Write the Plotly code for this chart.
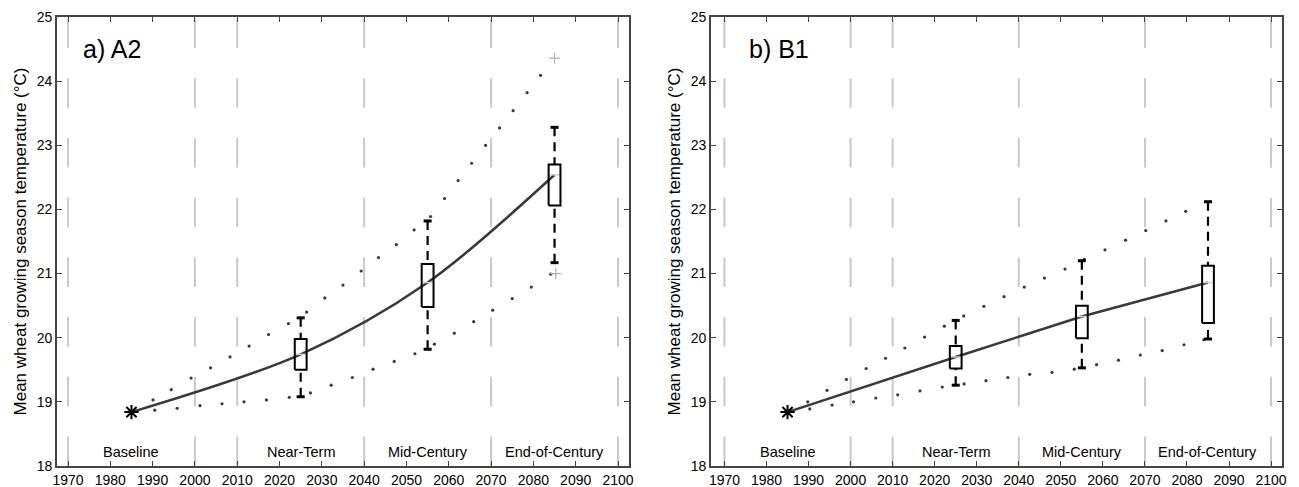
import plotly.graph_objects as go

# ---------------- data ----------------
periods = ["Baseline", "Near-Term", "Mid-Century", "End-of-Century"]
period_x = [1985, 2025, 2055, 2085]
box_x = [2025, 2055, 2085]
baseline_temp = 18.84
grid_years = [1970, 2000, 2010, 2040, 2070, 2100]
x_ticks = list(range(1970, 2101, 10))
y_ticks = [18, 19, 20, 21, 22, 23, 24, 25]

# A2 scenario box statistics
a2_median = [19.74, 20.86, 22.54]
a2_q1 = [19.50, 20.48, 22.06]
a2_q3 = [19.98, 21.15, 22.70]
a2_lo = [19.08, 19.82, 21.17]
a2_hi = [20.31, 21.82, 23.28]
a2_out_x = [2085, 2085.3]
a2_out_y = [24.36, 21.00]

a2_up_x = [1990.1, 1994.4, 1999.1, 2003.7, 2008.3, 2012.8, 2017.4, 2022.1, 2026.4, 2030.7, 2035.0, 2039.3,
           2043.4, 2047.6, 2051.8, 2055.7, 2059.0, 2062.2, 2065.4, 2068.7, 2072.0, 2075.2, 2078.5, 2081.7]
a2_up_y = [19.03, 19.19, 19.37, 19.53, 19.70, 19.87, 20.05, 20.22, 20.40, 20.62, 20.82, 21.04,
           21.25, 21.45, 21.68, 21.89, 22.17, 22.45, 22.72, 23.00, 23.27, 23.54, 23.82, 24.09]
a2_lw_x = [1990.5, 1995.8, 2001.2, 2006.4, 2011.6, 2016.9, 2022.3, 2027.3, 2032.2, 2037.2, 2042.1, 2047.1,
           2052.0, 2056.6, 2061.3, 2065.9, 2070.4, 2075.0, 2079.5, 2084.1]
a2_lw_y = [18.87, 18.90, 18.94, 18.97, 19.00, 19.03, 19.07, 19.14, 19.26, 19.38, 19.51, 19.63,
           19.75, 19.90, 20.07, 20.25, 20.43, 20.61, 20.79, 20.99]

# B1 scenario box statistics
b1_median = [19.70, 20.33, 20.86]
b1_q1 = [19.52, 19.99, 20.23]
b1_q3 = [19.87, 20.50, 21.12]
b1_lo = [19.26, 19.53, 19.98]
b1_hi = [20.27, 21.20, 22.12]

b1_up_x = [1989.8, 1994.4, 1999.0, 2003.7, 2008.3, 2012.9, 2017.6, 2022.3, 2026.9, 2031.7, 2036.5, 2041.3,
           2046.1, 2051.0, 2055.6, 2060.5, 2065.4, 2070.2, 2075.0, 2079.7]
b1_up_y = [19.00, 19.18, 19.35, 19.52, 19.68, 19.84, 20.01, 20.18, 20.34, 20.49, 20.64, 20.79,
           20.93, 21.07, 21.22, 21.37, 21.52, 21.67, 21.82, 21.97]
b1_lw_x = [1990.3, 1995.6, 2000.7, 2006.0, 2011.2, 2016.5, 2021.8, 2027.0, 2032.2, 2037.4, 2042.6, 2047.9,
           2053.2, 2058.5, 2063.7, 2068.9, 2074.1, 2079.3, 2084.0]
b1_lw_y = [18.89, 18.95, 19.00, 19.06, 19.11, 19.17, 19.23, 19.28, 19.33, 19.38, 19.43, 19.46,
           19.51, 19.58, 19.65, 19.73, 19.80, 19.89, 19.97]

panel_labels = ["a) A2", "b) B1"]
y_title = "Mean wheat growing season temperature (°C)"

# ---------------- styles ----------------
FONT = "Liberation Sans, Arial, sans-serif"
BOX_HALF = 1.4
CAP_HALF = 0.95

fig = go.Figure()


def add_panel(xa, ya, med, q1, q3, lo, hi, up_x, up_y, lw_x, lw_y, smooth, out_x=None, out_y=None):
    # dashed gray vertical reference lines (drawn bottom to top)
    gx, gy = [], []
    for g in grid_years:
        gx += [g, g, None]
        gy += [18, 25, None]
    fig.add_trace(go.Scatter(x=gx, y=gy, mode="lines", xaxis=xa, yaxis=ya,
                             line=dict(color="#c9c9c9", width=2, dash="29.5px,30.2px"),
                             hoverinfo="skip", showlegend=False))
    # envelope dots
    for dx, dy in ((up_x, up_y), (lw_x, lw_y)):
        fig.add_trace(go.Scatter(x=dx, y=dy, mode="markers", xaxis=xa, yaxis=ya,
                                 marker=dict(color="#3a3a3a", size=3.2),
                                 showlegend=False))
    # median trajectory line
    fig.add_trace(go.Scatter(x=period_x, y=[baseline_temp] + med, mode="lines", xaxis=xa, yaxis=ya,
                             line=dict(color="#3a3a3a", width=2.6,
                                       shape="spline" if smooth else "linear", smoothing=0.9),
                             showlegend=False))
    # whiskers (dashed), from cap toward box
    wx, wy = [], []
    for c, a, b, l, h in zip(box_x, q1, q3, lo, hi):
        wx += [c, c, None, c, c, None]
        wy += [h, b, None, l, a, None]
    fig.add_trace(go.Scatter(x=wx, y=wy, mode="lines", xaxis=xa, yaxis=ya,
                             line=dict(color="black", width=2.2, dash="9px,6px"),
                             showlegend=False))
    # caps
    cx, cy = [], []
    for c, l, h in zip(box_x, lo, hi):
        cx += [c - CAP_HALF, c + CAP_HALF, None, c - CAP_HALF, c + CAP_HALF, None]
        cy += [h, h, None, l, l, None]
    fig.add_trace(go.Scatter(x=cx, y=cy, mode="lines", xaxis=xa, yaxis=ya,
                             line=dict(color="black", width=3),
                             showlegend=False))
    # median marks inside boxes (faint)
    mx, my = [], []
    for c, m in zip(box_x, med):
        mx += [c - BOX_HALF, c + BOX_HALF, None]
        my += [m, m, None]
    fig.add_trace(go.Scatter(x=mx, y=my, mode="lines", xaxis=xa, yaxis=ya,
                             line=dict(color="#cfcfcf", width=1.5), showlegend=False))
    # boxes
    bx, by = [], []
    for c, a, b in zip(box_x, q1, q3):
        bx += [c - BOX_HALF, c + BOX_HALF, c + BOX_HALF, c - BOX_HALF, c - BOX_HALF, None]
        by += [a, a, b, b, a, None]
    fig.add_trace(go.Scatter(x=bx, y=by, mode="lines", xaxis=xa, yaxis=ya,
                             line=dict(color="black", width=2), showlegend=False))
    # outliers
    if out_x:
        fig.add_trace(go.Scatter(x=out_x, y=out_y, mode="markers", xaxis=xa, yaxis=ya,
                                 marker=dict(symbol="cross-thin-open", size=8, color="#b0b0b0",
                                             line=dict(color="#b0b0b0", width=1.2)),
                                 showlegend=False))
    # baseline asterisk
    fig.add_trace(go.Scatter(x=[period_x[0]], y=[baseline_temp], mode="markers", xaxis=xa, yaxis=ya,
                             marker=dict(symbol="asterisk-open", size=12, color="black",
                                         line=dict(color="black", width=2)),
                             showlegend=False))


add_panel("x", "y", a2_median, a2_q1, a2_q3, a2_lo, a2_hi,
          a2_up_x, a2_up_y, a2_lw_x, a2_lw_y, True, a2_out_x, a2_out_y)
add_panel("x2", "y2", b1_median, b1_q1, b1_q3, b1_lo, b1_hi,
          b1_up_x, b1_up_y, b1_lw_x, b1_lw_y, False)

annotations = []
for xr, yr, lab, lx in (("x", "y", panel_labels[0], 1973.1), ("x2", "y2", panel_labels[1], 1975.3)):
    annotations.append(dict(x=lx, y=24.5, xref=xr, yref=yr, text=lab, showarrow=False,
                            xanchor="left", yanchor="middle",
                            font=dict(family=FONT, size=25, color="black")))
    for px, name in zip(period_x, periods):
        annotations.append(dict(x=px, y=18.22, xref=xr, yref=yr, text=name, showarrow=False,
                                xanchor="center", yanchor="middle",
                                font=dict(family=FONT, size=14.5, color="black")))

axis_common = dict(showline=True, linecolor="#444", linewidth=1.6, mirror="ticks",
                   ticks="inside", ticklen=5, tickwidth=1.2, tickcolor="#444",
                   showgrid=False, zeroline=False, automargin=False,
                   tickfont=dict(family=FONT, size=14, color="black"))

xcommon = dict(axis_common, tickvals=x_ticks, ticktext=[str(t) for t in x_ticks])
ycommon = dict(axis_common, tickvals=y_ticks, ticktext=[str(t) for t in y_ticks], range=[18, 25],
               title=dict(text=y_title, standoff=6, font=dict(family=FONT, size=17, color="black")))

# page body has an 8px margin: figure is offset by 8px right and down
fig.update_layout(
    width=1291, height=479,
    margin=dict(l=49, r=17, t=9, b=21),
    paper_bgcolor="white", plot_bgcolor="white",
    showlegend=False,
    xaxis=dict(xcommon, domain=[0, 0.46694], range=[1967.4, 2102.6], anchor="y"),
    yaxis=dict(ycommon, domain=[0, 1], anchor="x"),
    xaxis2=dict(xcommon, domain=[0.53388, 1], range=[1966.8, 2102.6], anchor="y2"),
    yaxis2=dict(ycommon, domain=[0, 1], anchor="x2"),
    annotations=annotations,
)

fig.write_html("out.html")
